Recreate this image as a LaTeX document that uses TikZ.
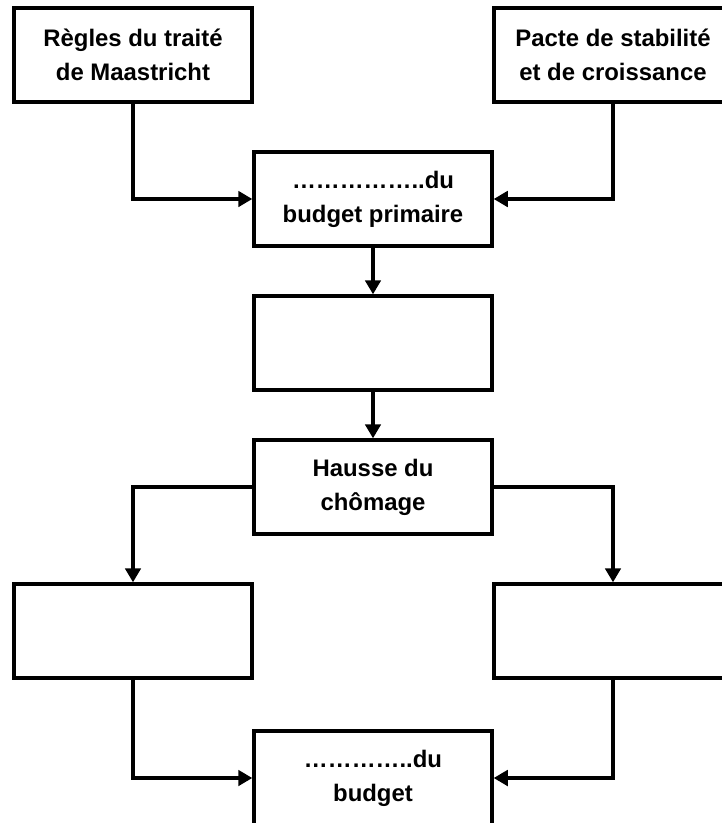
\documentclass[tikz,border=0pt]{standalone}
\usepackage{fontspec}
\setmainfont{Liberation Sans}
\usetikzlibrary{arrows.meta}

\begin{document}
\begin{tikzpicture}[every node/.style={draw=black,line width=2.4pt,minimum width=5.95cm,minimum height=2.35cm,inner sep=0pt,align=center,font=\fontsize{17}{24}\selectfont\bfseries},fleche/.style={line width=2.4pt,-{Triangle[length=10pt,width=11pt]}}]
\useasboundingbox (0,0) rectangle (18.05,-20.575);
\node (regles) at (3.325,-1.375) {Règles du traité\\de Maastricht};
\node (pacte) at (15.325,-1.375) {Pacte de stabilité\\et de croissance};
\node (primaire) at (9.325,-4.975) {……………..du\\budget primaire};
\node (vide) at (9.325,-8.575) {};
\node (chomage) at (9.325,-12.175) {Hausse du\\chômage};
\node (gauche) at (3.325,-15.775) {};
\node (droite) at (15.325,-15.775) {};
\node (budget) at (9.325,-19.45) {…………..du\\budget};
\draw[fleche] (regles.south) |- (primaire.west);
\draw[fleche] (pacte.south) |- (primaire.east);
\draw[fleche] (primaire) -- (vide);
\draw[fleche] (vide) -- (chomage);
\draw[fleche] (chomage.west) -| (gauche.north);
\draw[fleche] (chomage.east) -| (droite.north);
\draw[fleche] (gauche.south) |- (budget.west);
\draw[fleche] (droite.south) |- (budget.east);
\end{tikzpicture}
\end{document}
